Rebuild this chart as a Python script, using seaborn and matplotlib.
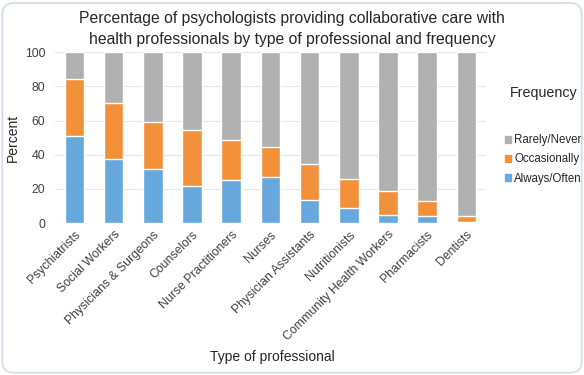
import numpy as np
import pandas as pd
import seaborn as sns
import matplotlib.pyplot as plt
from matplotlib.patches import Patch, FancyBboxPatch

professions = ['Psychiatrists', 'Social Workers', 'Physicians & Surgeons', 'Counselors',
               'Nurse Practitioners', 'Nurses', 'Physician Assistants', 'Nutritionists',
               'Community Health Workers', 'Pharmacists', 'Dentists']
always = [50.7, 37.4, 31.5, 21.7, 25.2, 26.8, 13.5, 9.0, 4.7, 4.3, 0.8]
occasionally = [33.4, 32.7, 27.6, 32.9, 23.5, 17.6, 21.1, 17.0, 14.3, 8.8, 3.1]
rarely = [15.9, 29.9, 40.9, 45.4, 51.3, 55.6, 65.4, 74.0, 81.0, 86.9, 96.1]

c_blue = '#67a9dc'
c_orange = '#f3913b'
c_gray = '#b0b0b0'

df = pd.DataFrame({'prof': professions, 'always': always,
                   'occ': occasionally, 'rarely': rarely})
df['lvl2'] = df['always'] + df['occ']
df['lvl3'] = df['lvl2'] + df['rarely']

sns.set_style('white')
plt.rcParams['font.family'] = ['Liberation Sans', 'DejaVu Sans']

fig = plt.figure(figsize=(5.84, 3.75), dpi=100)
ax = fig.add_axes([0.094, 0.405, 0.738, 0.456])

# stacked bars: draw cumulative totals back to front
sns.barplot(data=df, x='prof', y='lvl3', color=c_gray, width=0.5, saturation=1, ax=ax, zorder=3)
sns.barplot(data=df, x='prof', y='lvl2', color=c_orange, width=0.5, saturation=1, ax=ax, zorder=3)
sns.barplot(data=df, x='prof', y='always', color=c_blue, width=0.5, saturation=1, ax=ax, zorder=3)

ax.set_ylim(0, 100)
ax.set_xlim(-0.5, len(professions) - 0.5)
ax.set_yticks(range(0, 101, 20))
ax.yaxis.grid(True, color='#e6e6e6', linewidth=0.8, zorder=0)
for s in ax.spines.values():
    s.set_visible(False)
ax.tick_params(axis='both', length=0, labelsize=8.8, colors='#404040')
ax.tick_params(axis='y', pad=7)
ax.set_xticks(range(len(professions)))
ax.set_xticklabels(professions, rotation=45, ha='right', rotation_mode='anchor')
ax.tick_params(axis='x', pad=4)
ax.set_ylabel('Percent', fontsize=10, color='#262626')
ax.yaxis.set_label_coords(-0.081, 0.5)
ax.set_xlabel('Type of professional', fontsize=10, color='#262626')
ax.xaxis.set_label_coords(0.504, -0.743)

fig.text(0.5, 0.97, 'Percentage of psychologists providing collaborative care with\n'
         'health professionals by type of professional and frequency',
         ha='center', va='top', fontsize=11.3, color='#262626', linespacing=1.45)

handles = [Patch(color=c_gray), Patch(color=c_orange), Patch(color=c_blue)]
leg = fig.legend(handles, ['Rarely/Never', 'Occasionally', 'Always/Often'],
                 title='Frequency', loc='upper left', bbox_to_anchor=(0.864, 0.772),
                 frameon=False, fontsize=8.3, title_fontsize=10.3,
                 borderpad=0, borderaxespad=0,
                 handlelength=0.55, handleheight=0.55, handletextpad=0.3,
                 labelspacing=0.62)
leg._legend_box.sep = 25
leg.get_title().set_color('#262626')

border = FancyBboxPatch((0.004, 0.006), 0.992, 0.986, boxstyle='round,pad=0,rounding_size=0.02',
                        transform=fig.transFigure, fill=False, edgecolor='#d0dceb',
                        linewidth=1.2, mutation_aspect=584 / 375)
fig.patches.append(border)

fig.savefig('out.png', dpi=100)
